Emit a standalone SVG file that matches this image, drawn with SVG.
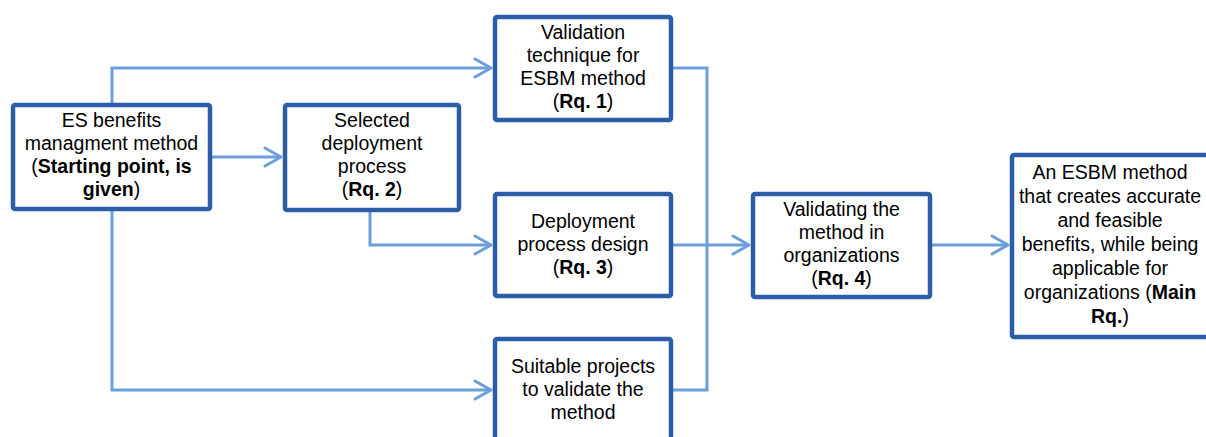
<svg xmlns="http://www.w3.org/2000/svg" width="1206" height="437" viewBox="0 0 1206 437">
  <defs>
    <style>
      .box { fill: #ffffff; stroke: #2c5ea8; stroke-width: 4.5; }
      .lbl { font-family: "Liberation Sans", Arial, sans-serif; font-size: 19.5px; fill: #000000; text-anchor: middle; }
      .b { font-weight: bold; }
      .wire { fill: none; stroke: #6c9edc; stroke-width: 3; }
    </style>
    <marker id="chevron" markerUnits="userSpaceOnUse" viewBox="-20 -12 22 24" markerWidth="22" markerHeight="24" refX="0" refY="0" orient="auto">
      <path d="M-16,-9 L0,0 L-16,9" fill="none" stroke="#6c9edc" stroke-width="3" stroke-linecap="round" stroke-linejoin="round"/>
    </marker>
  </defs>

  <rect width="1206" height="437" fill="#ffffff"/>

  <!-- connectors -->
  <g id="connectors">
    <polyline class="wire" points="112,103 112,68 491,68" marker-end="url(#chevron)"/>
    <polyline class="wire" points="212,157 281,157" marker-end="url(#chevron)"/>
    <polyline class="wire" points="370,212 370,245 491,245" marker-end="url(#chevron)"/>
    <polyline class="wire" points="112,211 112,390 491,390" marker-end="url(#chevron)"/>
    <polyline class="wire" points="673,68 707,68 707,390 673,390"/>
    <polyline class="wire" points="673,245 749,245" marker-end="url(#chevron)"/>
    <polyline class="wire" points="932,245 1008,245" marker-end="url(#chevron)"/>
  </g>

  <!-- starting point -->
  <g id="node-es-benefits">
    <rect class="box" x="13" y="105" width="197" height="104" rx="2"/>
    <text class="lbl" x="111.5" y="127">ES benefits</text>
    <text class="lbl" x="111.5" y="150">managment method</text>
    <text class="lbl" x="111.5" y="173">(<tspan class="b">Starting point, is</tspan></text>
    <text class="lbl" x="111.5" y="196"><tspan class="b">given</tspan>)</text>
  </g>

  <g id="node-rq2">
    <rect class="box" x="285" y="105" width="174" height="105" rx="2"/>
    <text class="lbl" x="372" y="127">Selected</text>
    <text class="lbl" x="372" y="150">deployment</text>
    <text class="lbl" x="372" y="173">process</text>
    <text class="lbl" x="372" y="196">(<tspan class="b">Rq. 2</tspan>)</text>
  </g>

  <g id="node-rq1">
    <rect class="box" x="495" y="17" width="176" height="103" rx="2"/>
    <text class="lbl" x="583" y="39">Validation</text>
    <text class="lbl" x="583" y="62">technique for</text>
    <text class="lbl" x="583" y="85">ESBM method</text>
    <text class="lbl" x="583" y="108">(<tspan class="b">Rq. 1</tspan>)</text>
  </g>

  <g id="node-rq3">
    <rect class="box" x="495" y="194" width="176" height="102" rx="2"/>
    <text class="lbl" x="583" y="228">Deployment</text>
    <text class="lbl" x="583" y="251">process design</text>
    <text class="lbl" x="583" y="274">(<tspan class="b">Rq. 3</tspan>)</text>
  </g>

  <g id="node-projects">
    <rect class="box" x="495" y="339" width="176" height="110" rx="2"/>
    <text class="lbl" x="583" y="373">Suitable projects</text>
    <text class="lbl" x="583" y="396">to validate the</text>
    <text class="lbl" x="583" y="419">method</text>
  </g>

  <g id="node-rq4">
    <rect class="box" x="753" y="194" width="177" height="103" rx="2"/>
    <text class="lbl" x="841.5" y="216">Validating the</text>
    <text class="lbl" x="841.5" y="239">method in</text>
    <text class="lbl" x="841.5" y="262">organizations</text>
    <text class="lbl" x="841.5" y="285">(<tspan class="b">Rq. 4</tspan>)</text>
  </g>

  <g id="node-main">
    <rect class="box" x="1012" y="155" width="200" height="182" rx="2"/>
    <text class="lbl" x="1110" y="179">An ESBM method</text>
    <text class="lbl" x="1110" y="203">that creates accurate</text>
    <text class="lbl" x="1110" y="227">and feasible</text>
    <text class="lbl" x="1110" y="251">benefits, while being</text>
    <text class="lbl" x="1110" y="275">applicable for</text>
    <text class="lbl" x="1110" y="299">organizations (<tspan class="b">Main</tspan></text>
    <text class="lbl" x="1110" y="323"><tspan class="b">Rq.</tspan>)</text>
  </g>
</svg>
